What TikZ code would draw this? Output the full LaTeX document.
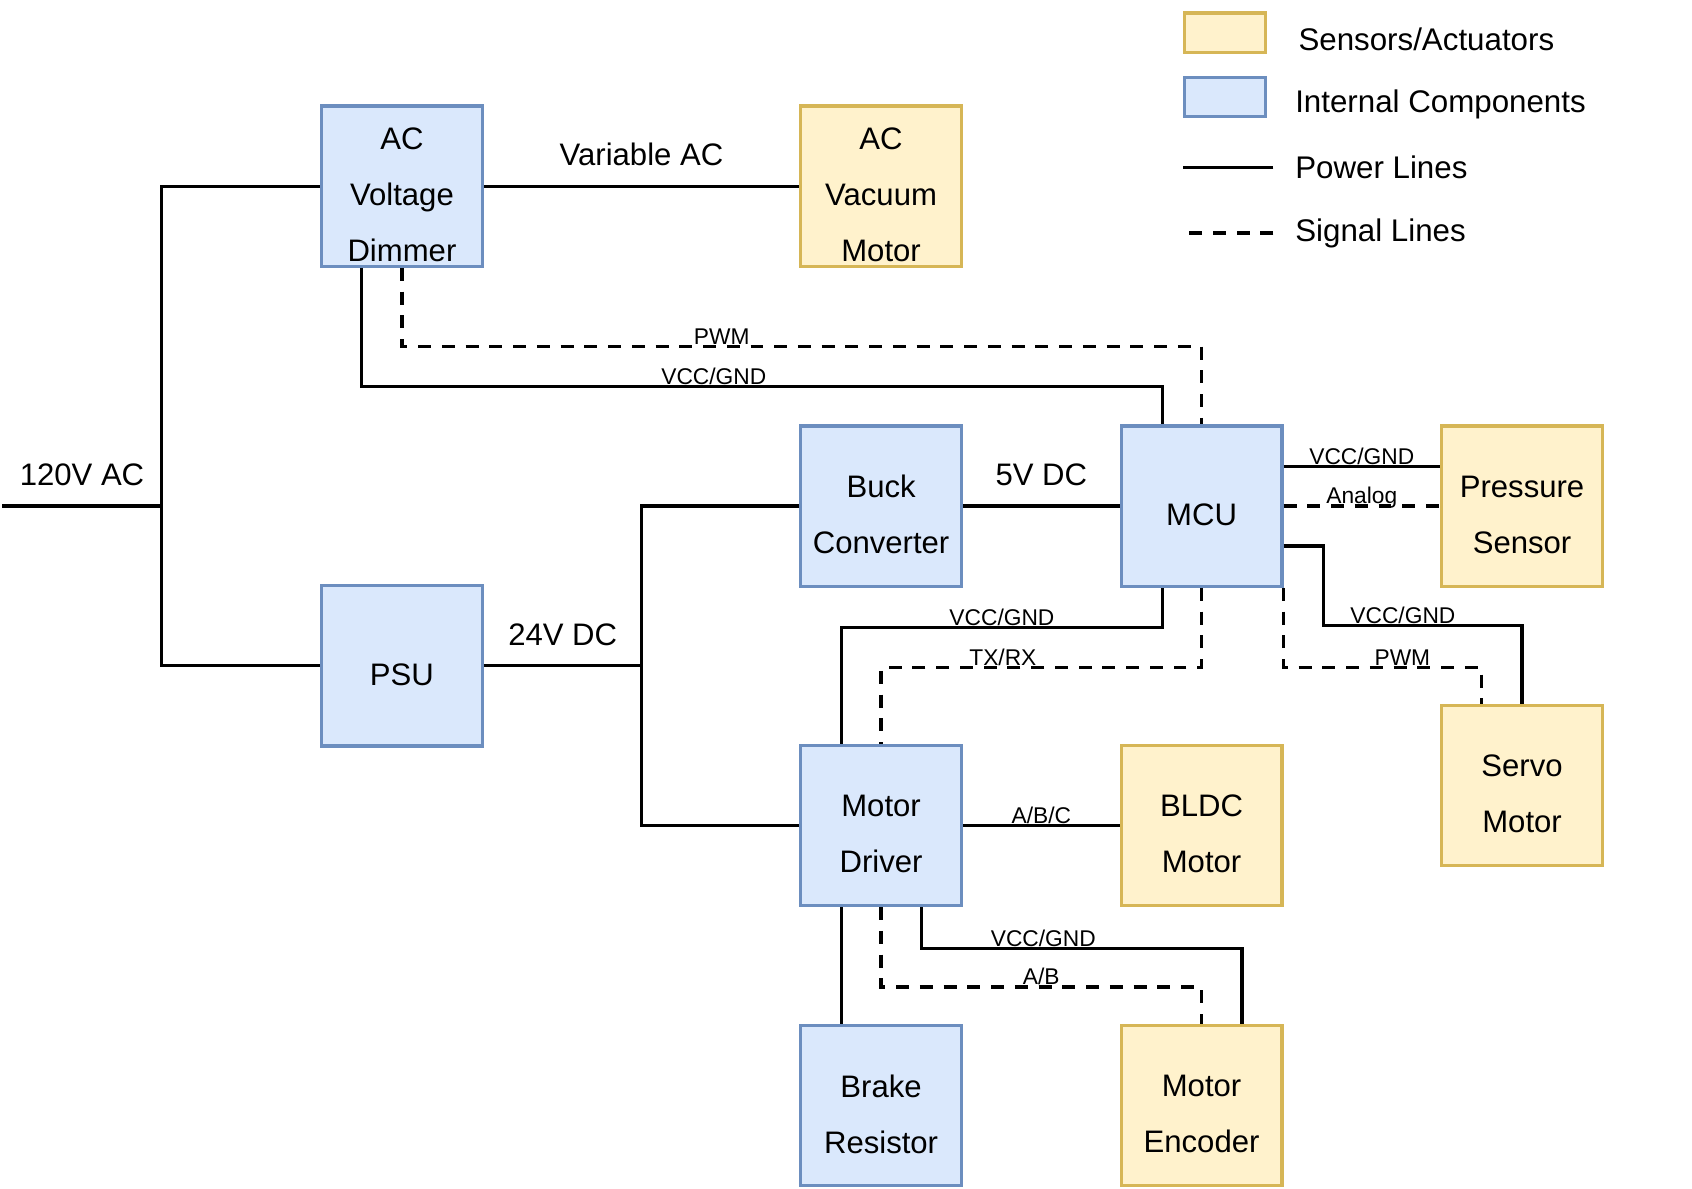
\documentclass[tikz,border=0pt]{standalone}
\usepackage{fontspec}
\setmainfont{Liberation Sans}
\usepackage{tikz}
\usetikzlibrary{positioning, calc}
\definecolor{intfill}{HTML}{DAE8FC}
\definecolor{intline}{HTML}{6C8EBF}
\definecolor{sensfill}{HTML}{FFF2CC}
\definecolor{sensline}{HTML}{D6B656}
\tikzset{
    basebox/.style={rectangle, line width=1.7pt, minimum width=29.8mm, minimum height=29.7mm, inner sep=0pt},
    intbox/.style={basebox, draw=intline, fill=intfill},
    sensbox/.style={basebox, draw=sensline, fill=sensfill},
    boxtext/.style={align=center, font=\fontsize{16.4}{29.6}\selectfont, yshift=-1.6mm},
    power/.style={line width=1.7pt, color=black},
    signal/.style={power, dash pattern=on 2.4mm off 2mm},
    biglbl/.style={font=\fontsize{16.4}{19}\selectfont, yshift=5.8mm},
    lbl/.style={font=\fontsize{12}{14}\selectfont, anchor=base, inner sep=0pt, yshift=0.4mm},
    legtext/.style={font=\fontsize{16.5}{19}\selectfont, anchor=west, inner sep=0pt}
}

\begin{document}
\begin{tikzpicture}[x=0.2mm, y=-0.2mm]
    \useasboundingbox (0,0) rectangle (1568,1101);

    % blocks
    \node (dimmer) [intbox, label={[boxtext]center:AC\\Voltage\\Dimmer}] at (372.5,172.5) {};
    \node (vacuum) [sensbox, label={[boxtext]center:AC\\Vacuum\\Motor}] at (816.5,172.5) {};
    \node (buck) [intbox, label={[boxtext]center:Buck\\Converter}] at (816.5,469) {};
    \node (mcu) [intbox, label={[boxtext]center:MCU}] at (1113.5,469) {};
    \node (pressure) [sensbox, label={[boxtext]center:Pressure\\Sensor}] at (1410.5,469) {};
    \node (psu) [intbox, label={[boxtext]center:PSU}] at (372.5,617) {};
    \node (driver) [intbox, label={[boxtext]center:Motor\\Driver}] at (816.5,765) {};
    \node (bldc) [sensbox, label={[boxtext]center:BLDC\\Motor}] at (1113.5,765) {};
    \node (servo) [sensbox, label={[boxtext]center:Servo\\Motor}] at (1410.5,728) {};
    \node (brake) [intbox, label={[boxtext]center:Brake\\Resistor}] at (816.5,1024.5) {};
    \node (encoder) [sensbox, label={[boxtext]center:Motor\\Encoder}] at (1113.5,1024.5) {};

    \coordinate (mains) at (2,469);
    \coordinate (acbus) at (150,469);
    \coordinate (dcbus) at (594.5,617);

    % power
    \draw [power] (mains) -- node[biglbl] {120V AC} (acbus);
    \draw [power] (dimmer.west) -| (acbus) |- (psu.west);
    \draw [power] (dimmer.east) -- node[biglbl] {Variable AC} (vacuum.west);
    \draw [power] (psu.east) -- node[biglbl] {24V DC} (dcbus);
    \draw [power] (buck.west) -| (dcbus) |- (driver.west);
    \draw [power] (buck.east) -- node[biglbl] {5V DC} (mcu.west);
    \draw [power] ([xshift=-7.5mm]dimmer.south) -- ++(0,110) -| node[lbl, pos=0.22] {VCC/GND} ([xshift=-7.3mm]mcu.north);
    \draw [power] ([yshift=7.4mm]mcu.east) -- node[lbl] {VCC/GND} ([yshift=7.4mm]pressure.west);
    \draw [power] ([yshift=-7.4mm]mcu.east) -- ++(37,0) -- ++(0,74) -| node[lbl, pos=0.2] {VCC/GND} (servo.north);
    \draw [power] ([xshift=-7.3mm]mcu.south) -- ++(0,37) -| node[lbl, pos=0.25] {VCC/GND} ([xshift=-7.3mm]driver.north);
    \draw [power] (driver.east) -- node[lbl] {A/B/C} (bldc.west);
    \draw [power] ([xshift=-7.3mm]driver.south) -- ([xshift=-7.3mm]brake.north);
    \draw [power] ([xshift=7.5mm]driver.south) -- ++(0,38) -| node[lbl, pos=0.19] {VCC/GND} ([xshift=7.5mm]encoder.north);

    % signals
    \draw [signal] (dimmer.south) -- ++(0,73) -| node[lbl, pos=0.2] {PWM} (mcu.north);
    \draw [signal] (mcu.east) -- node[lbl] {Analog} (pressure.west);
    \draw [signal] (mcu.south east) -- ++(0,74) -| node[lbl, pos=0.3] {PWM} ([xshift=-7.5mm]servo.north);
    \draw [signal] (mcu.south) -- ++(0,74) -| node[lbl, pos=0.31] {TX/RX} (driver.north);
    \draw [signal] (driver.south) -- ++(0,74) -| node[lbl, pos=0.25] {A/B} (encoder.north);

    % legend
    \node (legsens) [sensbox, minimum width=15mm, minimum height=7.4mm] at (1135.5,30.5) {};
    \node (legint) [intbox, minimum width=15mm, minimum height=7.2mm] at (1135.5,90) {};
    \node (legsenstxt) [legtext] at (1203,36) {Sensors/Actuators};
    \node (leginttxt) [legtext] at (1200,97) {Internal Components};
    \node (legpowtxt) [legtext] at (1200,155) {Power Lines};
    \node (legsigtxt) [legtext] at (1200,216) {Signal Lines};
    \draw [power] ([xshift=-4mm]legpowtxt.west) -- ++(-84,0);
    \draw [signal] ([xshift=-4mm]legsigtxt.west) -- ++(-82,0);
\end{tikzpicture}
\end{document}
